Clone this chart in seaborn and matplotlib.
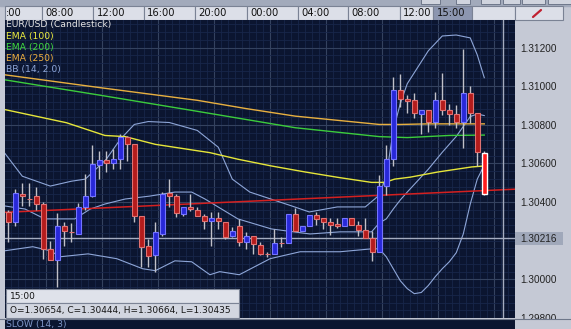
import numpy as np
import pandas as pd
import matplotlib
matplotlib.use("Agg")
import matplotlib.pyplot as plt
import seaborn as sns
from matplotlib.patches import Rectangle
from matplotlib.ticker import MultipleLocator, FormatStrFormatter

# ---------------- data ----------------
opens = [1.30349, 1.30297, 1.30443, 1.30416, 1.30433, 1.30390, 1.30158, 1.30098, 1.30277, 1.30247,
         1.30235, 1.30375, 1.30433, 1.30594, 1.30617, 1.30600, 1.30622, 1.30735, 1.30699, 1.30330,
         1.30175, 1.30124, 1.30235, 1.30447, 1.30433, 1.30338, 1.30375, 1.30361, 1.30330, 1.30301,
         1.30319, 1.30299, 1.30227, 1.30275, 1.30193, 1.30224, 1.30180, 1.30132, 1.30132, 1.30189,
         1.30189, 1.30338, 1.30252, 1.30278, 1.30335, 1.30316, 1.30296, 1.30287, 1.30275, 1.30318,
         1.30283, 1.30258, 1.30213, 1.30144, 1.30481, 1.30625, 1.30982, 1.30934, 1.30926, 1.30857,
         1.30879, 1.30816, 1.30926, 1.30879, 1.30857, 1.30816, 1.30965, 1.30862, 1.30654]
closes = [1.30297, 1.30447, 1.30433, 1.30416, 1.30390, 1.30158, 1.30098, 1.30277, 1.30251, 1.30247,
          1.30375, 1.30433, 1.30596, 1.30617, 1.30600, 1.30625, 1.30735, 1.30699, 1.30328, 1.30170,
          1.30121, 1.30246, 1.30441, 1.30431, 1.30344, 1.30375, 1.30364, 1.30330, 1.30304, 1.30319,
          1.30302, 1.30218, 1.30252, 1.30193, 1.30224, 1.30184, 1.30132, 1.30132, 1.30188, 1.30189,
          1.30338, 1.30252, 1.30278, 1.30333, 1.30313, 1.30296, 1.30282, 1.30275, 1.30318, 1.30283,
          1.30258, 1.30213, 1.30144, 1.30481, 1.30625, 1.30982, 1.30934, 1.30922, 1.30859, 1.30879,
          1.30816, 1.30926, 1.30879, 1.30857, 1.30816, 1.30965, 1.30862, 1.30659, 1.30444]
highs = [1.30359, 1.30467, 1.30498, 1.30498, 1.30478, 1.30400, 1.30201, 1.30344, 1.30297, 1.30292,
         1.30395, 1.30544, 1.30694, 1.30664, 1.30664, 1.30673, 1.30750, 1.30740, 1.30699, 1.30330,
         1.30210, 1.30297, 1.30452, 1.30519, 1.30441, 1.30375, 1.30441, 1.30375, 1.30338, 1.30350,
         1.30349, 1.30299, 1.30272, 1.30313, 1.30246, 1.30224, 1.30194, 1.30144, 1.30261, 1.30218,
         1.30338, 1.30369, 1.30278, 1.30333, 1.30350, 1.30316, 1.30316, 1.30316, 1.30318, 1.30318,
         1.30304, 1.30316, 1.30252, 1.30539, 1.30694, 1.31048, 1.31065, 1.30956, 1.30965, 1.30879,
         1.30879, 1.30968, 1.31068, 1.30909, 1.30905, 1.31192, 1.31003, 1.30862, 1.30664]
lows = [1.30194, 1.30277, 1.30380, 1.30380, 1.30359, 1.30107, 1.30098, 1.29963, 1.30174, 1.30194,
        1.30235, 1.30359, 1.30426, 1.30519, 1.30555, 1.30570, 1.30570, 1.30611, 1.30297, 1.30064,
        1.30066, 1.30040, 1.30225, 1.30375, 1.30323, 1.30328, 1.30354, 1.30330, 1.30261, 1.30175,
        1.30261, 1.30210, 1.30220, 1.30175, 1.30158, 1.30132, 1.30124, 1.30115, 1.30132, 1.30167,
        1.30189, 1.30251, 1.30252, 1.30278, 1.30283, 1.30261, 1.30230, 1.30265, 1.30275, 1.30283,
        1.30227, 1.30213, 1.30093, 1.30144, 1.30436, 1.30587, 1.30893, 1.30862, 1.30837, 1.30754,
        1.30764, 1.30785, 1.30853, 1.30798, 1.30785, 1.30682, 1.30811, 1.30587, 1.30435]

ema100_bar = [-0.5, 8.3, 13.8, 16.7, 21, 28.8, 32.8, 37.6, 42.4, 47.1, 51.9, 53.8, 55.2, 57.4, 61.4, 66.2, 68]
ema100_val = [1.30879, 1.30811, 1.30745, 1.30739, 1.30699, 1.30656, 1.30622, 1.30587, 1.30556, 1.30528,
              1.30502, 1.30502, 1.30519, 1.30529, 1.30556, 1.30582, 1.30587]
ema200_bar = [-0.5, 13, 27, 41, 53, 57, 63, 68]
ema200_val = [1.31033, 1.30954, 1.30870, 1.30785, 1.30739, 1.30734, 1.30745, 1.30747]
ema250_bar = [-0.5, 13, 27, 34, 41, 53, 56, 60, 68]
ema250_val = [1.31059, 1.30993, 1.30927, 1.30884, 1.30845, 1.30802, 1.30802, 1.30805, 1.30805]

bb_up_bar = [-0.5, 2, 6, 9, 11, 12.5, 14, 16, 18, 20, 23, 27, 30, 32, 34.5, 37.5, 40.5, 43, 47, 51,
             53, 54, 55, 56, 57, 60, 62, 64, 66, 67, 68]
bb_up_val = [1.30653, 1.30534, 1.30483, 1.30508, 1.30519, 1.30570, 1.30622, 1.30725, 1.30802, 1.30817,
             1.30812, 1.30771, 1.30684, 1.30519, 1.30452, 1.30416, 1.30380, 1.30349, 1.30375, 1.30375,
             1.30436, 1.30534, 1.30771, 1.30910, 1.31013, 1.31183, 1.31260, 1.31265, 1.31250, 1.31162, 1.31044]
bb_mid_bar = [-0.5, 2.4, 5.2, 9.5, 11.7, 13.8, 16.7, 20.2, 23.8, 26.2, 28.1, 32.8, 37.6, 43.1, 47.4, 51.9,
              53, 54, 55, 56, 57, 60, 62, 64, 66, 67, 68]
bb_mid_val = [1.30380, 1.30364, 1.30313, 1.30313, 1.30364, 1.30390, 1.30416, 1.30431, 1.30452, 1.30452,
              1.30416, 1.30313, 1.30261, 1.30235, 1.30246, 1.30246, 1.30292, 1.30313, 1.30364, 1.30411,
              1.30452, 1.30570, 1.30658, 1.30740, 1.30843, 1.30856, 1.30848]
bb_low_bar = [-0.5, 3.5, 6, 7.4, 11.4, 15.5, 19.2, 21, 23.8, 26.2, 28.8, 30.2, 33, 37.4, 41.7, 47.4, 51.9,
              53, 54, 55, 56, 57, 58, 59, 60, 61, 62, 63, 64, 65, 66, 67, 68]
bb_low_val = [1.30148, 1.30169, 1.30148, 1.30117, 1.30132, 1.30107, 1.30055, 1.30045, 1.30096, 1.30091,
              1.30024, 1.30040, 1.30024, 1.30107, 1.30143, 1.30143, 1.30158,
              1.30158, 1.30117, 1.30055, 1.29993, 1.29952, 1.29926, 1.29932, 1.29968, 1.30014, 1.30055,
              1.30091, 1.30138, 1.30235, 1.30390, 1.30519, 1.30591]

trend_bar = [-0.5, 72.5]
trend_val = [1.30347, 1.30467]

price_ticks = [1.298, 1.300, 1.304, 1.306, 1.308, 1.310, 1.312]
crosshair_price = 1.30216
time_labels = [":00", "08:00", "12:00", "16:00", "20:00", "00:00", "04:00", "08:00", "12:00", "15:00"]
legend_labels = ["EUR/USD (Candlestick)", "EMA (100)", "EMA (200)", "EMA (250)", "BB (14, 2.0)"]
tooltip_time = "15:00"
tooltip_ohlc = "O=1.30654, C=1.30444, H=1.30664, L=1.30435"
lower_pane_label = "SLOW (14, 3)"

# ---------------- figure ----------------
W, H = 571, 329
fig = plt.figure(figsize=(W / 100, H / 100), dpi=100)
plt.rcParams['font.family'] = ['DejaVu Sans']


def px_rect(x0, y0, x1, y1):
    return [x0 / W, 1 - y1 / H, (x1 - x0) / W, (y1 - y0) / H]


PANEL = '#c5c9d5'
CHART_BG = '#0b1530'

bg = fig.add_axes([0, 0, 1, 1])
bg.set_xlim(0, W)
bg.set_ylim(H, 0)
bg.axis('off')
bg.add_patch(Rectangle((0, 0), W, H, color=PANEL))
bg.add_patch(Rectangle((0, 0), W, 6, color='#a2aabb'))
for bx0, bx1 in [(421, 440), (456, 470), (481, 500), (503, 520), (522, 545), (548, 571)]:
    bg.add_patch(Rectangle((bx0, -2), bx1 - bx0, 6, fc='#d0d4de', ec='#6e778a', lw=0.7))

edges = [5, 41.7, 93.3, 144, 195, 246.7, 298.3, 348.3, 400, 433.3, 471.7, 515, 563]
for i in range(len(edges) - 1):
    fc = '#8c96b0' if i == 9 else '#dcdfe8'
    bg.add_patch(Rectangle((edges[i], 6), edges[i + 1] - edges[i], 14, fc=fc, ec='#7a8294', lw=0.8))
    if i < len(time_labels):
        bg.text(edges[i] + (0.5 if i == 0 else 3.3), 13.3, time_labels[i], va='center', ha='left',
                fontsize=7.2, color='#111111')
bg.plot([533, 541], [17, 10], color='#c02030', lw=1.6, solid_capstyle='round')

# ---------------- main chart ----------------
ax = fig.add_axes(px_rect(5, 20, 515, 318))
ax.set_facecolor(CHART_BG)
for s in ax.spines.values():
    s.set_visible(False)
ax.set_xlim(-0.471, 72.39)
ax.set_ylim(1.298079, 1.313427)

ax.set_yticks(price_ticks)
ax.yaxis.set_major_formatter(FormatStrFormatter('%.5f'))
ax.yaxis.set_minor_locator(MultipleLocator(0.0004))
ax.xaxis.set_major_locator(MultipleLocator(8, offset=5.35))
ax.xaxis.set_minor_locator(MultipleLocator(1, offset=0.35))
ax.grid(which='minor', color='#18264a', lw=0.6)
ax.grid(which='major', color='#34425f', lw=0.8)
ax.set_axisbelow(True)
ax.tick_params(axis='x', which='both', length=0, labelbottom=False)
ax.yaxis.tick_right()
ax.tick_params(axis='y', which='both', length=0, pad=4, labelsize=7.2, labelcolor='#222222')
for lbl in ax.get_yticklabels():
    lbl.set_fontfamily('Liberation Sans')


def draw_line(xs, ys, color, lw):
    df = pd.DataFrame({'bar': xs, 'price': ys})
    sns.lineplot(data=df, x='bar', y='price', ax=ax, color=color, lw=lw, legend=False,
                 estimator=None, sort=False, zorder=2)


draw_line(bb_up_bar, bb_up_val, '#8ea6d8', 0.8)
draw_line(bb_mid_bar, bb_mid_val, '#8ea6d8', 0.8)
draw_line(bb_low_bar, bb_low_val, '#8ea6d8', 0.8)
draw_line(ema250_bar, ema250_val, '#e8b040', 1.0)
draw_line(ema200_bar, ema200_val, '#3ccc3c', 1.0)
draw_line(ema100_bar, ema100_val, '#e6e63a', 1.0)
draw_line(trend_bar, trend_val, '#d42020', 1.1)
ax.set_xlabel('')
ax.set_ylabel('')

# crosshair
ax.axhline(crosshair_price, color='#a4acc0', lw=1.0, zorder=2.5)
ax.axvline(70.67, color='#a4acc0', lw=1.0, zorder=2.5)

# candles
idx = np.arange(len(opens))
o = np.array(opens); c = np.array(closes); hi = np.array(highs); lo = np.array(lows)
ax.vlines(idx, lo, hi, color='#c0c0c8', lw=1.0, zorder=3)
bull = c > o
bear = ~bull
last = len(opens) - 1
bear_mask = bear.copy(); bear_mask[last] = False
ax.bar(idx[bull], (c - o)[bull], bottom=o[bull], width=0.66, color='#2828d8',
       edgecolor='#7474ff', lw=0.8, zorder=4)
ax.bar(idx[bear_mask], np.maximum((o - c)[bear_mask], 0.000001), bottom=c[bear_mask], width=0.66,
       color='#b41c1c', edgecolor='#e07272', lw=0.8, zorder=4)
ax.bar([last], [o[last] - c[last]], bottom=[c[last]], width=0.66, color='#ff1c1c',
       edgecolor='white', lw=1.0, zorder=4)

# ---------------- overlay ----------------
ov = fig.add_axes([0, 0, 1, 1])
ov.set_xlim(0, W)
ov.set_ylim(H, 0)
ov.axis('off')
ov.patch.set_alpha(0)

leg_colors = ['#e4e4e4', '#f0f040', '#40dc40', '#f0b040', '#8ea6d8']
for k, (lab, col) in enumerate(zip(legend_labels, leg_colors)):
    ov.text(6.5, 25 + k * 11.1, lab, color=col, fontsize=6.7, va='center', ha='left')

# current price marker on scale
ov.add_patch(Rectangle((515, 231.7), 48, 13.3, fc='#a0a8ba', ec='none'))
ov.text(520.5, 238.5, '1.30216', fontsize=7.2, family='Liberation Sans', color='#222222',
        va='center', ha='left')

# tooltip
ov.add_patch(Rectangle((6, 289.3), 233.3, 14, fc='#dfe2ea', ec='#7c8496', lw=0.8))
ov.add_patch(Rectangle((6, 303.3), 233.3, 14.4, fc='#d2d6e0', ec='#7c8496', lw=0.8))
ov.text(10, 296.5, tooltip_time, fontsize=6.5, color='#151515', va='center', ha='left')
ov.text(10, 310.7, tooltip_ohlc, fontsize=6.5, color='#151515', va='center', ha='left')

# lower pane
ov.add_patch(Rectangle((5, 319), 510, 11, fc=CHART_BG, ec='none'))
ov.add_patch(Rectangle((515, 319), 56, 11, fc=PANEL, ec='none'))
ov.plot([0, 571], [318.8, 318.8], color='#6e778a', lw=0.8)
ov.text(6.5, 324.8, lower_pane_label, color='#7f96c8', fontsize=6.7, va='center', ha='left')

fig.savefig('out.png', dpi=100, facecolor=PANEL)
